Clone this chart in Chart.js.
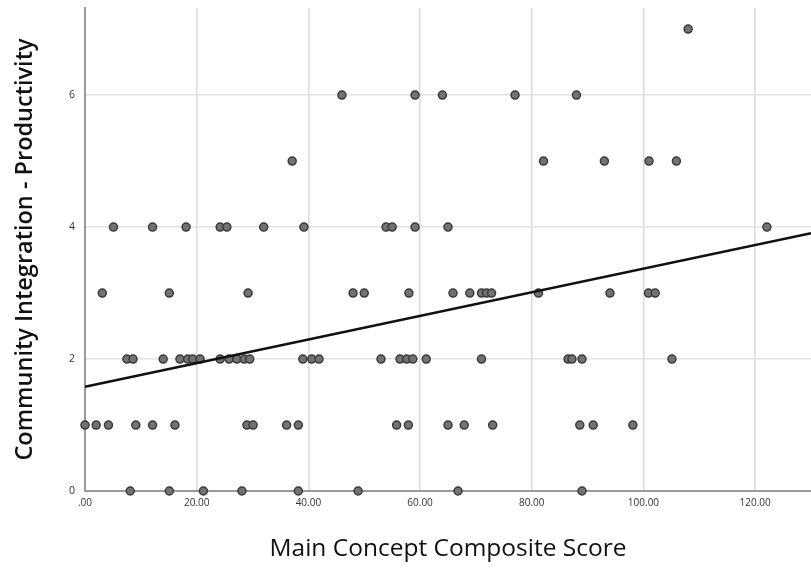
<!DOCTYPE html>
<html>
<head>
<meta charset="utf-8">
<script src="https://cdn.jsdelivr.net/npm/chart.js@4.4.1/dist/chart.umd.min.js"></script>
<style>
  html, body { margin: 0; padding: 0; background: #ffffff; }
  #wrap { width: 811px; height: 569px; position: relative; }
</style>
</head>
<body>
<div id="wrap"><canvas id="chart" width="811" height="569"></canvas></div>
<script>
// Main Concept Composite Score for each participant, grouped by
// their Community Integration - Productivity score (0 .. 7).
const scoresProd0 = [8.1, 15.1, 21.2, 28.1, 38.2, 48.9, 66.8, 89.0];
const scoresProd1 = [0.0, 2.0, 4.2, 9.1, 12.1, 16.1, 29.0, 30.1, 36.1, 38.2,
                     55.8, 57.9, 65.0, 67.9, 73.0, 88.6, 91.0, 98.1];
const scoresProd2 = [7.5, 8.6, 14.0, 17.0, 18.4, 19.3, 20.6, 24.2, 25.8, 27.2,
                     28.5, 29.5, 39.0, 40.6, 41.9, 53.0, 56.4, 57.6, 58.7, 61.1,
                     71.0, 86.5, 87.2, 89.0, 105.1];
const scoresProd3 = [3.1, 15.1, 29.2, 48.0, 50.0, 58.0, 65.9, 68.9, 71.0, 71.9,
                     72.8, 81.2, 94.0, 100.9, 102.1];
const scoresProd4 = [5.1, 12.1, 18.1, 24.2, 25.4, 32.0, 39.2, 53.9, 55.0, 59.1,
                     65.0, 122.1];
const scoresProd5 = [37.1, 82.1, 93.0, 101.0, 105.9];
const scoresProd6 = [46.0, 59.1, 64.0, 77.0, 88.0];
const scoresProd7 = [108.0];

const productivityLevels = [0, 1, 2, 3, 4, 5, 6, 7];
const scoresByLevel = [scoresProd0, scoresProd1, scoresProd2, scoresProd3,
                       scoresProd4, scoresProd5, scoresProd6, scoresProd7];

// Linear fit line (total population)
const fitIntercept = 1.58;
const fitSlope = 0.0179;

// Axis ranges and ticks
const xRange = [0, 130];
const yRange = [0, 7.32];
const xTickValues = [0, 20, 40, 60, 80, 100, 120];
const xTickLabels = ['.00', '20.00', '40.00', '60.00', '80.00', '100.00', '120.00'];
const yTickValues = [0, 2, 4, 6];
const yTickLabels = ['0', '2', '4', '6'];

const points = [];
productivityLevels.forEach((level, i) => {
  scoresByLevel[i].forEach(score => points.push({ x: score, y: level }));
});

const fitLine = xRange.map(x => ({ x: x, y: fitIntercept + fitSlope * x }));

// Keep the plot area flush with the canvas edges (no label overhang padding)
function noEdgePadding(s) {
  s.paddingLeft = 0; s.paddingRight = 0;
  s.paddingTop = 0; s.paddingBottom = 0;
}

new Chart(document.getElementById('chart'), {
  type: 'scatter',
  data: {
    datasets: [
      {
        label: 'Observed',
        data: points,
        pointRadius: 4,
        pointHoverRadius: 4,
        pointBackgroundColor: '#727272',
        pointBorderColor: '#3a3a3a',
        pointBorderWidth: 1.5,
        order: 2
      },
      {
        label: 'Fit Line for Total',
        type: 'line',
        data: fitLine,
        borderColor: '#111111',
        borderWidth: 2.6,
        pointRadius: 0,
        fill: false,
        tension: 0,
        order: 1
      }
    ]
  },
  options: {
    responsive: false,
    animation: false,
    events: [],
    clip: false,
    layout: { autoPadding: false, padding: { top: 8, right: 0, left: 0, bottom: 0 } },
    plugins: {
      legend: { display: false },
      tooltip: { enabled: false }
    },
    scales: {
      x: {
        type: 'linear',
        min: xRange[0],
        max: xRange[1],
        afterBuildTicks: s => { s.ticks = xTickValues.map(v => ({ value: v })); },
        afterFit: s => { s.height = 78; noEdgePadding(s); },
        ticks: {
          callback: v => xTickLabels[xTickValues.indexOf(v)],
          color: '#333333',
          font: { family: 'Open Sans', size: 10 },
          padding: 6,
          maxRotation: 0
        },
        grid: {
          color: '#dcdcdc',
          lineWidth: 1.6,
          drawTicks: false
        },
        border: { display: true, color: '#9a9a9a', width: 2 },
        title: {
          display: true,
          text: 'Main Concept Composite Score',
          color: '#111111',
          font: { family: 'Open Sans', size: 24.5 },
          padding: { top: 0, bottom: 5 }
        }
      },
      y: {
        type: 'linear',
        min: yRange[0],
        max: yRange[1],
        afterBuildTicks: s => { s.ticks = yTickValues.map(v => ({ value: v })); },
        afterFit: s => { s.width = 85; noEdgePadding(s); },
        ticks: {
          callback: v => yTickLabels[yTickValues.indexOf(v)],
          color: '#333333',
          font: { family: 'Open Sans', size: 10.5 },
          padding: 10
        },
        grid: {
          color: '#e2e2e2',
          lineWidth: 1.6,
          drawTicks: false
        },
        border: { display: true, color: '#9a9a9a', width: 2 },
        title: {
          display: true,
          text: 'Community Integration - Productivity',
          color: '#111111',
          font: { family: 'Open Sans', size: 23.5, weight: '600' },
          padding: { top: 11, bottom: 0 }
        }
      }
    }
  }
});
</script>
</body>
</html>
